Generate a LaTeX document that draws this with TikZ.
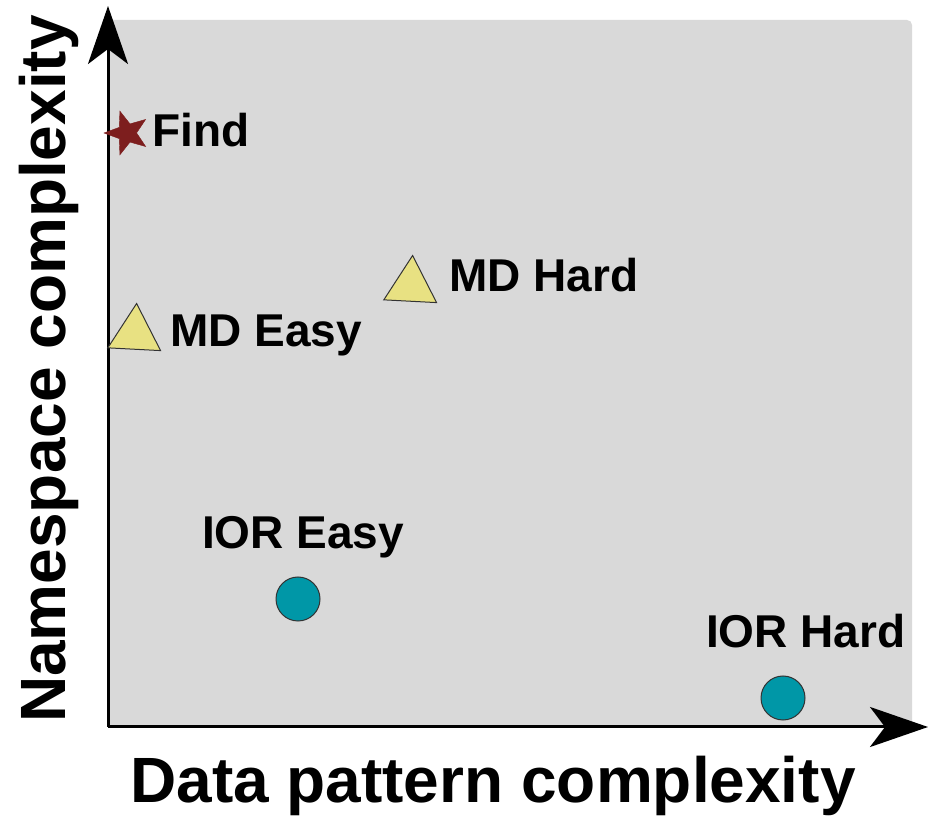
\documentclass[tikz,border=0pt]{standalone}
\usepackage{fontspec}
\setmainfont{Liberation Sans}
\usetikzlibrary{shapes.geometric,arrows.meta}
\definecolor{bggray}{HTML}{D9D9D9}
\definecolor{iorteal}{HTML}{0097A7}
\definecolor{mdyellow}{HTML}{E8E182}
\definecolor{findred}{HTML}{7D1E1E}
\tikzset{
  axisline/.style={line width=3pt, -{Stealth[length=58pt, width=40pt, inset=15pt]}},
  ptlabel/.style={anchor=base west, inner sep=0pt, font=\fontsize{46}{50}\selectfont\bfseries},
  axlabel/.style={anchor=base, inner sep=0pt, font=\fontsize{64}{70}\selectfont\bfseries},
  iorpt/.style={circle, draw=black!80, line width=1pt, fill=iorteal, minimum size=44pt, inner sep=0pt},
  mdpt/.style={regular polygon, regular polygon sides=3, draw=black!80, line width=1pt, fill=mdyellow, minimum size=61pt, inner sep=0pt},
  findpt/.style={star, star points=5, star point ratio=2.4, shape border rotate=90, fill=findred, draw=findred, minimum size=46pt, inner sep=0pt}
}
\begin{document}
\begin{tikzpicture}[x=1pt,y=1pt]
\useasboundingbox (0,0) rectangle (928,816);
% background panel
\fill[bggray, rounded corners=5pt] (108,89) -- (108,796) -- (912,796) -- (912,89) [sharp corners] -- cycle;
% axes
\coordinate (origin) at (108,89);
\coordinate (ytip) at (108,810);
\coordinate (xtip) at (928,89);
\draw[axisline] (origin) -- (ytip);
\draw[axisline] (origin) -- (xtip);
% axis labels
\node[axlabel] (xlab) at (493,14) {Data pattern complexity};
\node[axlabel, rotate=90] (ylab) at (65,447) {Namespace complexity};
% points
\node[findpt] (find) at (127,683) {};
\node[ptlabel] (findlab) at (152,669) {Find};
\node[mdpt, shape border rotate=-3] (mdeasy) at (135,482) {};
\node[ptlabel] (mdeasylab) at (170,469) {MD Easy};
\node[mdpt, shape border rotate=-3] (mdhard) at (411,530) {};
\node[ptlabel] (mdhardlab) at (449,524) {MD Hard};
\node[iorpt] (ioreasy) at (298,217) {};
\node[ptlabel] (ioreasylab) at (202,267) {IOR Easy};
\node[iorpt] (iorhard) at (783,118) {};
\node[ptlabel] (iorhardlab) at (706,168) {IOR Hard};
\end{tikzpicture}
\end{document}
